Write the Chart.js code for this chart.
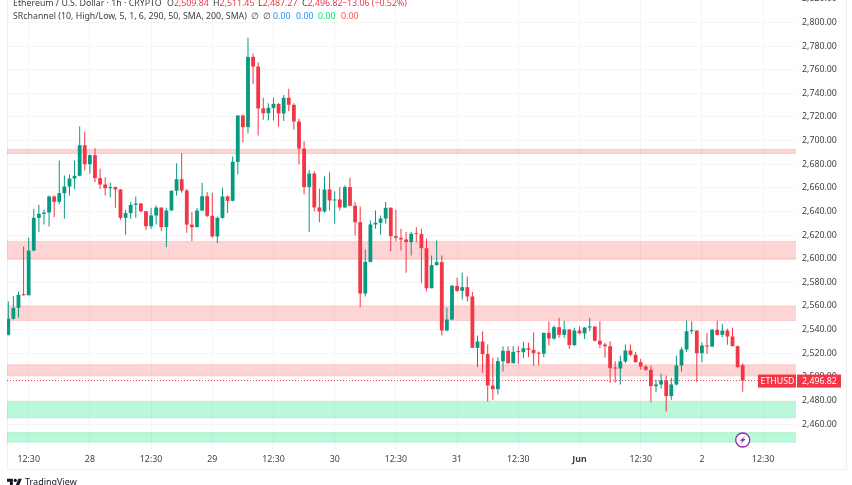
<!DOCTYPE html>
<html><head><meta charset="utf-8">
<script src="https://cdn.jsdelivr.net/npm/chart.js@4"></script>
<style>
html,body{margin:0;padding:0;background:#fff;width:852px;height:485px;overflow:hidden;font-family:"Noto Sans",sans-serif}
#wrap{position:absolute;left:0;top:-20px;width:852px;height:505px}
#frame{position:absolute;left:7px;top:-2px;width:838px;height:471px;border:1px solid #eeeff1;border-top:0;box-sizing:content-box;margin-left:0}
.t{position:absolute;white-space:pre;font-size:8.8px;line-height:10px;color:#3a3d45}
.r{color:#f23645}.b{color:#2196f3}.g{color:#00e676}.p{color:#ff5252}
#logoText{position:absolute;left:25px;top:476px;font-size:9px;line-height:12px;color:#131722}
</style></head><body>
<div id="frame"></div>
<div id="wrap"><canvas id="c" width="852" height="505"></canvas></div>
<div class="t" style="left:13px;top:-2px">Ethereum / U.S. Dollar · 1h · CRYPTO</div>
<div class="t" style="left:167px;top:-2px">O<span class="r">2,509.84</span></div>
<div class="t" style="left:213px;top:-2px">H<span class="r">2,511.45</span></div>
<div class="t" style="left:258px;top:-2px">L<span class="r">2,487.27</span></div>
<div class="t" style="left:302px;top:-2px">C<span class="r">2,496.82</span></div>
<div class="t r" style="left:342px;top:-2px">−13.06 (−0.52%)</div>
<div class="t" style="left:13px;top:11px">SRchannel (10, High/Low, 5, 1, 6, 290, 50, SMA, 200, SMA)</div>
<div class="t" style="left:251px;top:11px">∅</div>
<div class="t" style="left:263px;top:11px">∅</div>
<div class="t b" style="left:273px;top:11px">0.00</div>
<div class="t b" style="left:296px;top:11px">0.00</div>
<div class="t g" style="left:318px;top:11px">0.00</div>
<div class="t p" style="left:341px;top:11px">0.00</div>
<svg style="position:absolute;left:7px;top:477px" width="15" height="11" viewBox="0 0 36 26"><path fill="#131722" d="M14 22H7V11H0V4h14v18zM28 22h-8l7.5-18h8L28 22z"/><circle fill="#131722" cx="20" cy="8" r="4"/></svg>
<div id="logoText">TradingView</div>
<script>
const opens = [2535.5,2549.1,2558.4,2569.4,2569.1,2606.9,2634.6,2638.0,2639.1,2652.7,
2648.2,2655.5,2661.1,2667.9,2670.2,2696.1,2680.0,2687.7,2668.2,2662.8,
2659.7,2660.6,2658.6,2634.6,2638.6,2645.6,2646.7,2640.2,2627.5,2636.6,
2643.3,2626.7,2640.8,2657.5,2667.3,2657.7,2628.9,2626.7,2640.8,2652.9,
2636.3,2618.8,2634.6,2652.7,2649.0,2682.0,2721.3,2711.4,2770.9,2762.7,
2727.2,2723.2,2727.7,2731.1,2723.0,2736.2,2730.3,2716.2,2693.3,2660.6,
2672.1,2643.4,2640.0,2658.6,2649.3,2650.1,2643.4,2660.6,2644.8,2630.9,
2570.5,2597.3,2629.0,2630.4,2634.0,2643.1,2619.1,2617.7,2616.3,2614.0,
2621.1,2620.8,2608.9,2575.0,2594.5,2597.1,2539.2,2548.5,2577.0,2572.8,
2575.9,2568.0,2524.5,2529.9,2519.2,2492.6,2489.5,2513.2,2522.0,2511.5,
2521.1,2520.9,2524.2,2522.8,2520.0,2519.6,2537.2,2532.4,2542.0,2535.5,
2540.1,2526.8,2539.2,2536.7,2541.7,2542.6,2530.5,2527.3,2525.9,2507.6,
2507.0,2513.0,2522.3,2518.6,2512.4,2508.7,2505.9,2492.1,2493.5,2496.9,
2483.6,2493.5,2509.6,2523.1,2538.6,2539.2,2520.0,2526.5,2525.6,2539.8,
2535.5,2539.2,2534.1,2525.9,2509.84];
const closes = [2549.1,2558.4,2569.4,2569.1,2606.9,2634.6,2638.0,2639.1,2652.7,2648.2,
2655.5,2661.1,2667.9,2670.2,2696.1,2680.0,2687.7,2668.2,2662.8,2659.7,
2660.6,2658.6,2634.6,2638.6,2645.6,2646.7,2640.2,2627.5,2636.6,2643.3,
2626.7,2640.8,2657.5,2667.3,2657.7,2628.9,2626.7,2640.8,2652.9,2636.3,
2618.8,2634.6,2652.7,2649.0,2682.0,2721.3,2711.4,2770.9,2762.7,2727.2,
2723.2,2727.7,2731.1,2723.0,2736.2,2730.3,2716.2,2693.3,2660.6,2672.1,
2643.4,2640.0,2658.6,2649.3,2650.1,2643.4,2660.6,2644.8,2630.9,2570.5,
2597.3,2629.0,2630.4,2634.0,2643.1,2619.1,2617.7,2616.3,2614.0,2621.1,
2620.8,2608.9,2575.0,2594.5,2597.1,2539.2,2548.5,2577.0,2572.8,2575.9,
2568.0,2524.5,2529.9,2519.2,2492.6,2489.5,2513.2,2522.0,2511.5,2521.1,
2520.9,2524.2,2522.8,2520.0,2519.6,2537.2,2532.4,2542.0,2535.5,2540.1,
2526.8,2539.2,2536.7,2541.7,2542.6,2530.5,2527.3,2525.9,2507.3,2507.0,
2513.0,2522.3,2518.6,2512.4,2508.7,2505.9,2492.1,2493.5,2496.9,2483.6,
2493.5,2509.6,2523.1,2538.6,2539.2,2520.0,2526.5,2525.6,2539.8,2535.5,
2539.2,2534.1,2525.9,2508.2,2496.82];
const highs = [2564.0,2568.3,2572.2,2610.3,2617.7,2642.2,2645.6,2641.7,2653.5,2653.5,
2683.2,2670.4,2671.3,2683.2,2711.9,2707.7,2688.2,2693.6,2676.1,2669.0,
2664.2,2661.1,2659.1,2641.4,2647.9,2652.7,2647.3,2640.2,2643.1,2645.0,
2643.3,2643.1,2657.7,2680.9,2689.4,2659.1,2639.4,2643.1,2664.2,2656.3,
2655.8,2635.7,2660.0,2653.5,2686.5,2721.3,2721.8,2787.0,2774.0,2766.4,
2736.2,2731.7,2736.2,2731.7,2738.5,2743.8,2731.7,2718.4,2699.5,2675.2,
2674.1,2659.2,2669.6,2673.3,2657.2,2660.6,2662.0,2668.5,2647.9,2644.2,
2607.8,2632.3,2640.8,2636.6,2647.9,2643.6,2641.4,2625.3,2622.5,2622.5,
2626.7,2625.3,2616.8,2602.7,2615.4,2602.7,2558.4,2577.9,2583.8,2588.3,
2584.9,2571.7,2535.0,2538.6,2527.4,2516.1,2516.6,2525.6,2525.9,2525.9,
2525.9,2529.9,2528.8,2537.5,2521.4,2537.5,2546.8,2543.4,2549.9,2547.7,
2540.1,2541.5,2542.6,2542.0,2549.9,2542.6,2547.1,2528.8,2530.2,2513.2,
2518.0,2527.4,2527.4,2520.9,2515.2,2510.1,2509.6,2497.4,2502.5,2501.1,
2499.1,2518.0,2525.1,2547.7,2547.1,2539.2,2529.3,2537.0,2540.6,2547.7,
2544.9,2540.6,2541.5,2526.5,2511.45];
const lows = [2535.0,2548.5,2549.9,2568.6,2568.9,2606.4,2622.5,2629.0,2627.3,2635.2,
2645.9,2633.8,2653.5,2658.9,2669.9,2674.7,2671.9,2664.8,2659.1,2653.5,
2652.1,2643.1,2632.9,2620.2,2633.8,2634.6,2639.4,2624.4,2625.3,2629.0,
2623.3,2609.8,2640.8,2653.5,2655.8,2621.9,2614.9,2626.7,2640.2,2635.2,
2617.7,2613.2,2633.8,2638.6,2648.7,2671.3,2698.7,2706.3,2748.1,2704.3,
2717.6,2717.0,2717.0,2711.9,2716.5,2724.9,2709.1,2679.8,2654.4,2622.5,
2640.2,2630.9,2638.8,2640.8,2629.5,2640.8,2643.1,2644.5,2619.6,2558.9,
2568.0,2597.0,2625.3,2620.2,2629.5,2606.4,2614.8,2607.0,2588.0,2602.7,
2614.0,2579.6,2572.5,2575.0,2594.2,2534.9,2538.6,2547.7,2571.7,2565.5,
2563.8,2524.5,2508.2,2503.4,2479.1,2480.5,2485.0,2504.5,2511.0,2511.5,
2511.0,2515.8,2516.6,2509.3,2509.8,2516.6,2526.5,2531.3,2533.0,2533.0,
2523.7,2526.2,2536.4,2532.1,2538.6,2530.2,2524.2,2516.1,2494.9,2494.9,
2493.5,2511.5,2517.5,2511.8,2506.2,2504.8,2478.5,2487.0,2489.8,2470.6,
2480.5,2492.6,2504.5,2520.9,2536.4,2495.5,2512.4,2519.4,2525.1,2535.0,
2533.6,2527.1,2525.9,2507.6,2487.27];
const bandTops = [2692.5,2614.6,2559.7,2510.2];
const bandBottoms = [2689.1,2599.6,2547.7,2501.2];
const supportTops = [2479.0,2452.8];
const supportBottoms = [2465.3,2444.6];
const firstHour = -4;
const xRange = [-4.25,150.45];
const yRange = [2438.86,2835.98];
const yTicks = [2460,2480,2500,2520,2540,2560,2580,2600,2620,2640,2660,2680,2700,2720,2740,2760,2780,2800,2820];
const xTicks = [0,12,24,36,48,60,72,84,96,108,120,132,144];
const xLabels = ['12:30','28','12:30','29','12:30','30','12:30','31','12:30','Jun','12:30','2','12:30'];
const lastPrice = 2496.82;
const symbolName = 'ETHUSD';
const eventMark = {hour:140,price:2446.5};

const UP='#089981',DOWN='#f23645';
const hours = opens.map((_,i)=>i+firstHour);
const cols = opens.map((o,i)=>closes[i]>=o?UP:DOWN);
const fmt = v=>v.toLocaleString('en-US',{minimumFractionDigits:2,maximumFractionDigits:2});

function bandSets(tops,bottoms,fill,edge){
  const out=[];
  tops.forEach((t,i)=>{
    out.push({type:'line',order:6,data:xRange.map(x=>({x,y:t})),borderColor:edge,borderWidth:1,pointRadius:0,fill:{target:{value:bottoms[i]}},backgroundColor:fill,tension:0});
    out.push({type:'line',order:5,data:xRange.map(x=>({x,y:bottoms[i]})),borderColor:edge,borderWidth:1,pointRadius:0,fill:false,tension:0});
  });
  return out;
}
const overlay={id:'overlay',afterDraw(ch){
  const c=ch.ctx,y=ch.scales.y,x=ch.scales.x,py=y.getPixelForValue(lastPrice)+0.5,a=ch.chartArea;
  c.save();
  c.fillStyle=DOWN;
  c.fillRect(a.right-38,py-6.5,38,13);
  c.fillRect(a.right+1,py-6.5,44,13);
  c.fillStyle='#fff';c.font='8.8px "Noto Sans"';c.textBaseline='middle';c.textAlign='left';
  c.fillText(symbolName,a.right-35.5,py+0.5);
  c.fillText(fmt(lastPrice),a.right+6,py+0.5);
  const ex=x.getPixelForValue(eventMark.hour),ey=y.getPixelForValue(eventMark.price);
  c.beginPath();c.arc(ex,ey,7,0,Math.PI*2);c.fillStyle='#fff';c.fill();c.lineWidth=1.3;c.strokeStyle='#9c27b0';c.stroke();
  c.fillStyle='#9c27b0';c.beginPath();
  c.moveTo(ex+2.6,ey-4);c.lineTo(ex-3,ey+0.8);c.lineTo(ex-0.4,ey+0.8);c.lineTo(ex-2.2,ey+4);c.lineTo(ex+3,ey-0.9);c.lineTo(ex+0.4,ey-0.9);c.closePath();c.fill();
  c.restore();
}};
new Chart(document.getElementById('c'),{
  type:'bar',
  plugins:[overlay],
  data:{datasets:[
    ...bandSets(bandTops,bandBottoms,'rgba(255,82,82,0.25)','rgba(242,54,69,0.17)'),
    ...bandSets(supportTops,supportBottoms,'rgba(0,230,118,0.27)','rgba(0,200,110,0.18)'),
    {type:'line',order:4,data:xRange.map(x=>({x,y:lastPrice})),borderColor:DOWN,borderWidth:1,borderDash:[1,2],pointRadius:0,fill:false},
    {label:'Wick',order:2,data:hours.map((h,i)=>({x:h,y:[lows[i],highs[i]]})),backgroundColor:cols,barThickness:1,grouped:false,inflateAmount:0},
    {label:'Body',order:1,data:hours.map((h,i)=>({x:h,y:[opens[i],closes[i]]})),backgroundColor:cols,barThickness:3.8,grouped:false,minBarLength:1,inflateAmount:0}
  ]},
  options:{
    responsive:false,animation:false,
    layout:{padding:{left:7,right:7,top:0,bottom:16}},
    plugins:{legend:{display:false},tooltip:{enabled:false},title:{display:false}},
    scales:{
      x:{type:'linear',min:xRange[0],max:xRange[1],offset:false,
        grid:{offset:false,color:'#f3f4f6',lineWidth:1,drawTicks:false},border:{display:false},
        afterBuildTicks:s=>{s.ticks=xTicks.map(v=>({value:v}));},
        afterFit:s=>{s.height=20;s.paddingLeft=0;s.paddingRight=0;},
        ticks:{autoSkip:false,maxRotation:0,padding:5,color:'#3f424a',
          font:ctx=>({family:'"Noto Sans"',size:8.8,weight:(ctx.tick&&ctx.tick.value===108)?'bold':'normal'}),
          callback:v=>xLabels[xTicks.indexOf(v)]}},
      y:{position:'right',min:yRange[0],max:yRange[1],
        grid:{color:'#f5f5f6',lineWidth:1,drawTicks:false},border:{display:false},
        afterBuildTicks:s=>{s.ticks=yTicks.map(v=>({value:v}));},
        afterFit:s=>{s.width=49;s.paddingTop=0;s.paddingBottom=0;},
        ticks:{autoSkip:false,padding:6,color:'#3f424a',font:{family:'"Noto Sans"',size:8.8},callback:v=>fmt(v)}}
    }
  }
});
</script>
</body></html>
